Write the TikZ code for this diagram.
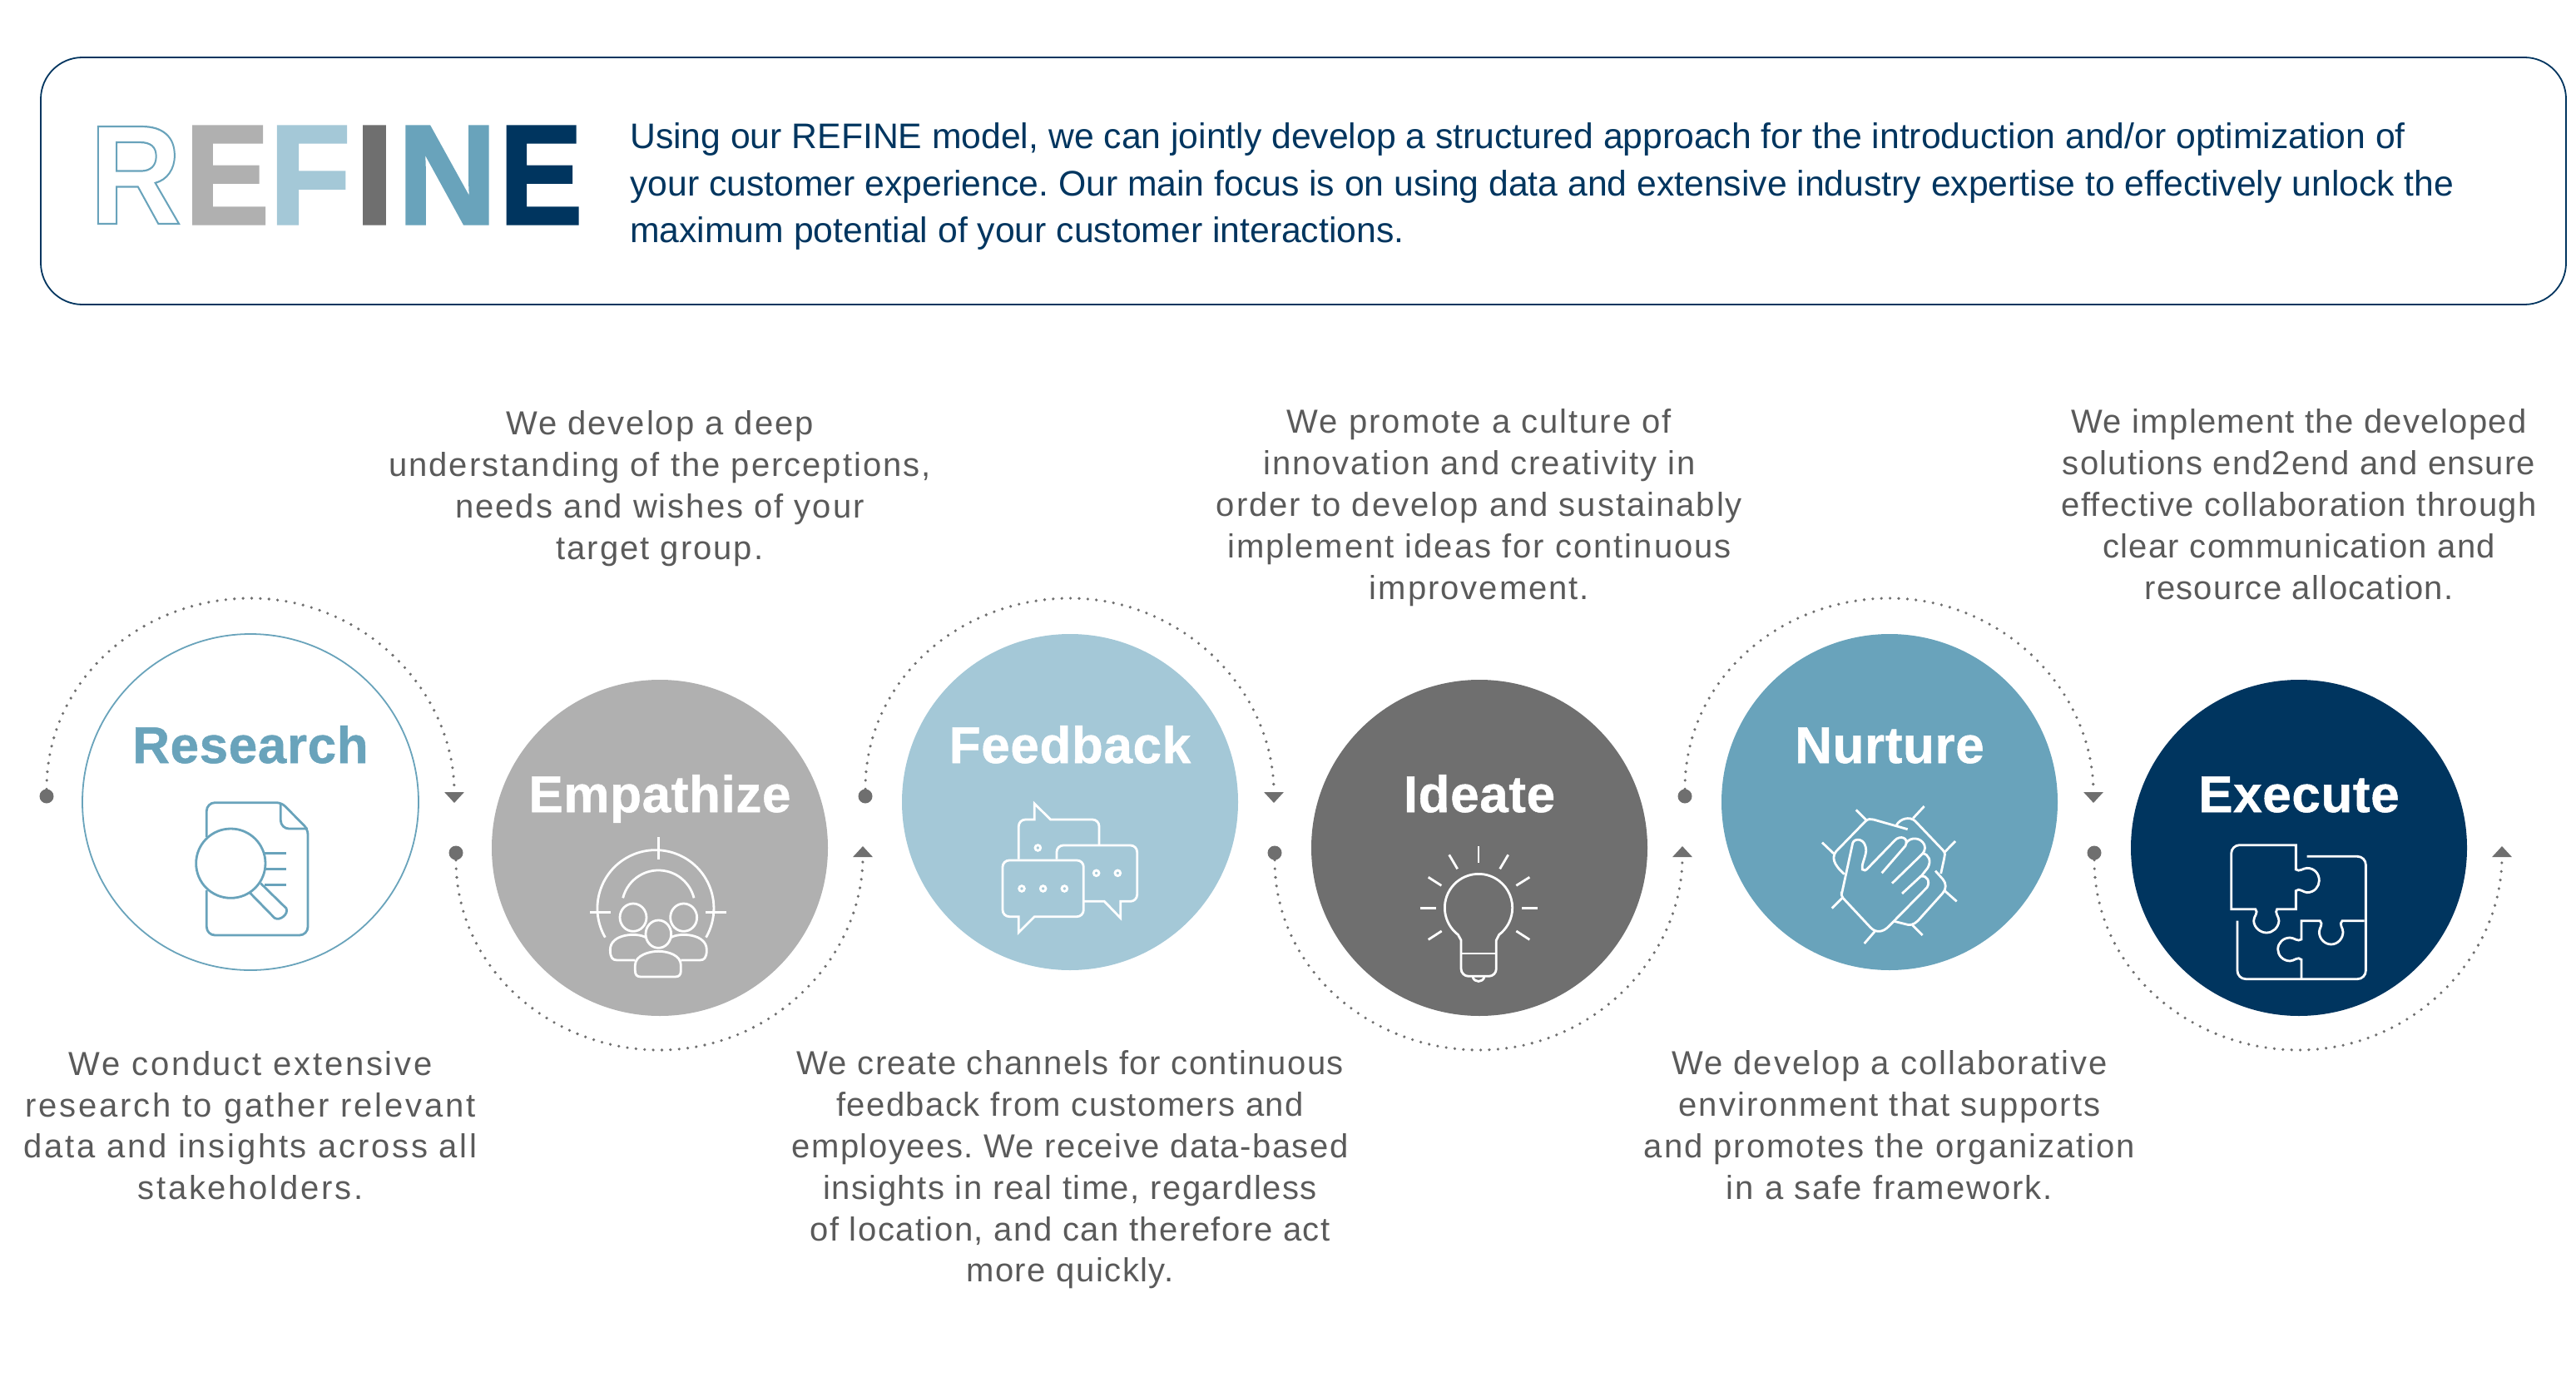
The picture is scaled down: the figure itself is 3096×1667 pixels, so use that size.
\documentclass[tikz,border=0pt]{standalone}
\usepackage{fontspec}
\usepackage{graphicx}
\usetikzlibrary{positioning}
\usetikzlibrary{arrows.meta}
\setmainfont{Liberation Sans}
\newfontfamily\bodyfont{Liberation Sans}
\newfontfamily\introfont{Liberation Sans}
\newfontfamily\headfont[LetterSpace=1, BoldFeatures={FakeBold=.8}]{Liberation Sans}
\newfontfamily\logofont[BoldFeatures={FakeBold=2}]{Liberation Sans}
\newfontfamily\outlinefont{Liberation Sans}
\definecolor{grey}{HTML}{B0B0B0}
\definecolor{sky}{HTML}{A4C8D7}
\definecolor{slate}{HTML}{6F6F6F}
\definecolor{teal}{HTML}{69A3BB}
\definecolor{navy}{HTML}{00355F}
\definecolor{ink}{HTML}{5A5A5A}
\tikzset{
  iconpart/.style = {x=.3333pt, y=-.3333pt, line width=2.8pt, line cap=butt}
}
\begin{document}
\begin{tikzpicture}[x=1pt, y=-1pt, >={Triangle[width=23pt, length=13pt]},
    every node/.style = {inner sep=0pt},
    stage/.style = {circle, minimum size=404pt},
    headline/.style = {font={\headfont\bfseries\fontsize{62}{70}\selectfont}, anchor=base},
    blurb/.style = {font={\bodyfont\addfontfeature{LetterSpace=#1}\frenchspacing\fontsize{40}{49.9}\selectfont}, text=ink, align=center},
    blurb/.default = 5,
    logo/.style = {font={\logofont\bfseries\fontsize{170}{170}\selectfont}, anchor=base},
    marker/.style = {circle, fill=slate, minimum size=17pt},
    flow/.style = {draw=slate, line width=3.6pt, line cap=round, dash pattern=on 0pt off 10.4pt}
    ]
    \useasboundingbox (0,0) rectangle (3096,1667);

    \node[draw=navy, line width=1.8pt, rectangle, rounded corners=50pt, minimum width=3035pt, minimum height=297pt] (box) at (1566.5,217.5) {};
    \node[logo, text=teal, font={\outlinefont\bfseries\fontsize{170}{170}\selectfont}] (l1) at (163,269) {\scalebox{.9}[1]{\special{pdf:code 1 Tr 2.2 w}R\special{pdf:code 0 Tr 1 w}}};
    \node[logo, text=grey] (l2) at (273,269) {\scalebox{.89}[1]{E}};
    \node[logo, text=sky] (l3) at (372.5,269) {\scalebox{.94}[1]{F}};
    \node[logo, text=slate] (l4) at (450,269) {\scalebox{1}[1]{I}};
    \node[logo, text=teal] (l5) at (537.5,269) {\scalebox{.97}[1]{N}};
    \node[logo, text=navy] (l6) at (650,269) {\scalebox{.88}[1]{E}};
    \node[font={\introfont\frenchspacing\fontsize{42.7}{56.3}\selectfont}, text=navy, align=left, anchor=west] (intro) at (757,224)
      {Using our REFINE model, we can jointly develop a structured approach for the introduction and/or optimization of\\
       your customer experience. Our main focus is on using data and extensive industry expertise to effectively unlock the\\
       maximum potential of your customer interactions.};

    \node[stage, draw=teal, line width=1.8pt] (1) at (301,964) {};
    \node[stage, fill=grey] (2) at (793,1019) {};
    \node[stage, fill=sky] (3) at (1286,964) {};
    \node[stage, fill=slate] (4) at (1778,1019) {};
    \node[stage, fill=teal] (5) at (2271,964) {};
    \node[stage, fill=navy] (6) at (2763,1019) {};

    \node[headline, text=teal] (1a) at (301,917) {Research};
    \node[headline, text=white] (2a) at (793,976) {Empathize};
    \node[headline, text=white] (3a) at (1286,917) {Feedback};
    \node[headline, text=white] (4a) at (1778,976) {Ideate};
    \node[headline, text=white] (5a) at (2271,917) {Nurture};
    \node[headline, text=white] (6a) at (2763,976) {Execute};

    \node[blurb=6.8, below=96pt of 1] (1b) {We conduct extensive\\research to gather relevant\\data and insights across all\\stakeholders.};
    \node[blurb, above=136pt of 2] (2b) {We develop a deep\\understanding of the perceptions,\\needs and wishes of your\\target group.};
    \node[blurb=3.8, below=96pt of 3] (3b) {We create channels for continuous\\feedback from customers and\\employees. We receive data-based\\insights in real time, regardless\\of location, and can therefore act\\more quickly.};
    \node[blurb, above=88pt of 4] (4b) {We promote a culture of\\innovation and creativity in\\order to develop and sustainably\\implement ideas for continuous\\improvement.};
    \node[blurb, below=96pt of 5] (5b) {We develop a collaborative\\environment that supports\\and promotes the organization\\in a safe framework.};
    \node[blurb=3.4, above=96pt of 6] (6b) {We implement the developed\\solutions end2end and ensure\\effective collaboration through\\clear communication and\\resource allocation.};

    \node[marker] (1c) at (56,957) {};
    \node[marker] (2c) at (548,1025) {};
    \node[marker] (3c) at (1040,957) {};
    \node[marker] (4c) at (1532,1025) {};
    \node[marker] (5c) at (2025,957) {};
    \node[marker] (6c) at (2517,1025) {};
    \coordinate (1d) at (301,719);
    \coordinate (2d) at (793,1262);
    \coordinate (3d) at (1286,719);
    \coordinate (4d) at (1778,1262);
    \coordinate (5d) at (2271,719);
    \coordinate (6d) at (2763,1262);
    \coordinate (1e) at (546,965);
    \coordinate (2e) at (1037,1017);
    \coordinate (3e) at (1531,965);
    \coordinate (4e) at (2022,1017);
    \coordinate (5e) at (2516,965);
    \coordinate (6e) at (3007,1017);
    \draw[flow, ->] (1c) to[out=90, in=180] (1d) to[out=0, in=90] (1e);
    \draw[flow, ->] (2c) to[out=-90, in=180] (2d) to[out=0, in=-90] (2e);
    \draw[flow, ->] (3c) to[out=90, in=180] (3d) to[out=0, in=90] (3e);
    \draw[flow, ->] (4c) to[out=-90, in=180] (4d) to[out=0, in=-90] (4e);
    \draw[flow, ->] (5c) to[out=90, in=180] (5d) to[out=0, in=90] (5e);
    \draw[flow, ->] (6c) to[out=-90, in=180] (6d) to[out=0, in=-90] (6e);

    \begin{scope}[shift={(220,950)}, iconpart, draw=teal]
    \draw (85,168) [rounded corners=10pt] -- (85,44) [rounded corners=6pt] -- (355,44) -- (450,140) [rounded corners=10pt] -- (450,522) -- (85,522) -- (85,360);
    \draw (352,48) [rounded corners=10pt] -- (352,138) -- (450,138);
    \draw (172,263) circle[radius=125];
    \draw (295,226) -- (372,226);
    \draw (295,283) -- (372,283);
    \draw (295,341) -- (372,341);
    \draw (240,368) -- (330,460) .. controls (350,472) and (382,445) .. (372,425) -- (280,335);
    \end{scope}

    \begin{scope}[shift={(700,1000)}, iconpart, draw=white]
    \draw (82,380) arc[start angle=150, end angle=390, radius=210];
    \draw (146,238) arc[start angle=194, end angle=346, radius=132];
    \draw (274,18) -- (274,98);
    \draw (28,289) -- (102,289);
    \draw (445,289) -- (518,289);
    \draw (183,308) circle[x radius=48, y radius=50];
    \draw (365,308) circle[x radius=48, y radius=50];
    \draw (274,368) circle[x radius=46, y radius=50];
    \draw (228,380) .. controls (200,362) and (100,365) .. (100,425) .. controls (100,455) and (110,462) .. (125,462) -- (190,462);
    \draw (320,380) .. controls (348,362) and (448,365) .. (448,425) .. controls (448,455) and (438,462) .. (423,462) -- (355,462);
    \draw (190,480) .. controls (190,445) and (240,430) .. (274,430) .. controls (310,430) and (355,445) .. (355,480) -- (355,500) .. controls (355,515) and (348,522) .. (335,522) -- (210,522) .. controls (197,522) and (190,515) .. (190,500) -- cycle;
    \end{scope}

    \begin{scope}[shift={(1190,960)}, iconpart, draw=white]
    \draw (103,218) [rounded corners=8pt] -- (103,75) [sharp corners] -- (160,75) -- (160,18) -- (218,75) [rounded corners=8pt] -- (393,75) -- (393,165);
    \draw (240,218) [rounded corners=8pt] -- (240,168) -- (530,168) -- (530,370) [sharp corners] -- (470,370) -- (470,430) -- (412,370) -- (338,370);
    \draw (103,425) -- (103,482) -- (160,425) [rounded corners=8pt] -- (337,425) -- (337,222) -- (45,222) -- (45,425) [sharp corners] -- (103,425) -- cycle;
    \draw (172,177) circle[radius=10];
    \draw (383,268) circle[radius=10];
    \draw (460,268) circle[radius=10];
    \draw (114,324) circle[radius=10];
    \draw (191,324) circle[radius=10];
    \draw (268,324) circle[radius=10];
    \end{scope}

    \begin{scope}[shift={(1690,1010)}, iconpart, draw=white]
    \draw (325,408) -- (198,408);
    \draw (187,340) arc[start angle=127.4, end angle=412.6, radius=122] -- (325,360) [rounded corners=9pt] -- (325,490) -- (198,490) [sharp corners] -- (198,360) -- cycle;
    \draw (240,492) .. controls (245,514) and (277,514) .. (282,492);
    \draw (261,22) -- (261,80);
    \draw (155,52) -- (185,103);
    \draw (368,52) -- (338,103);
    \draw (80,133) -- (127,163);
    \draw (445,133) -- (397,163);
    \draw (50,245) -- (107,245);
    \draw (417,245) -- (473,245);
    \draw (80,358) -- (128,327);
    \draw (445,358) -- (397,327);
    \end{scope}

    \begin{scope}[shift={(2180,960)}, iconpart, draw=white]
    \draw (100,345) -- (140,160) .. controls (145,140) and (190,140) .. (188,190) .. controls (185,215) and (170,240) .. (175,255) .. controls (180,262) and (188,258) .. (195,250) -- (292,150) .. controls (310,130) and (345,140) .. (330,170) -- (245,268);
    \draw (332,160) .. controls (350,135) and (385,140) .. (398,165) .. controls (405,185) and (395,195) .. (385,205) -- (282,305);
    \draw (392,197) .. controls (415,200) and (425,225) .. (410,250) -- (388,278);
    \draw (318,342) -- (385,280) .. controls (410,275) and (420,300) .. (408,320) -- (272,458) .. controls (250,482) and (225,485) .. (205,465) -- (105,358) .. controls (100,350) and (98,345) .. (100,335);
    \draw (338,110) -- (215,75) .. controls (205,72) and (195,72) .. (185,82) -- (80,190) .. controls (65,210) and (68,235) .. (110,272);
    \draw (298,95) .. controls (310,72) and (345,62) .. (365,80) -- (465,185) .. controls (475,195) and (473,205) .. (470,215) -- (458,270);
    \draw (438,260) -- (465,290) .. controls (478,305) and (478,325) .. (465,340) -- (375,440) .. controls (360,455) and (345,458) .. (330,452) -- (290,442);
    \draw (152,40) -- (190,78);
    \draw (398,27) -- (358,70);
    \draw (30,158) -- (72,198);
    \draw (510,153) -- (472,192);
    \draw (65,395) -- (102,358);
    \draw (515,370) -- (472,332);
    \draw (182,522) -- (220,478);
    \draw (392,492) -- (355,455);
    \end{scope}

    \begin{scope}[shift={(2670,1005)}, iconpart, draw=white]
    \draw (268,32) [rounded corners=10pt] -- (35,32) [sharp corners] -- (35,263) -- (122,263) .. controls (135,275) and (115,290) .. (116,305) .. controls (117,330) and (140,348) .. (162,348) .. controls (185,348) and (205,330) .. (207,305) .. controls (207,290) and (190,275) .. (200,263) -- (268,263) -- (268,197) .. controls (280,185) and (295,203) .. (308,203) .. controls (335,203) and (352,182) .. (352,160) .. controls (352,135) and (335,115) .. (308,115) .. controls (295,115) and (280,130) .. (268,120) -- cycle;
    \draw (308,73) [rounded corners=10pt] -- (520,73) -- (520,515) -- (57,515) [sharp corners] -- (57,305);
    \draw (288,515) -- (288,445) .. controls (275,432) and (262,450) .. (247,450) .. controls (222,450) and (203,430) .. (203,408) .. controls (203,385) and (222,366) .. (247,366) .. controls (262,366) and (275,382) .. (288,372) -- (288,305) -- (355,305) .. controls (368,318) and (352,330) .. (352,345) .. controls (352,370) and (372,390) .. (395,390) .. controls (418,390) and (438,370) .. (438,345) .. controls (438,330) and (422,318) .. (435,305) -- (515,305);
    \end{scope}
\end{tikzpicture}
\end{document}
